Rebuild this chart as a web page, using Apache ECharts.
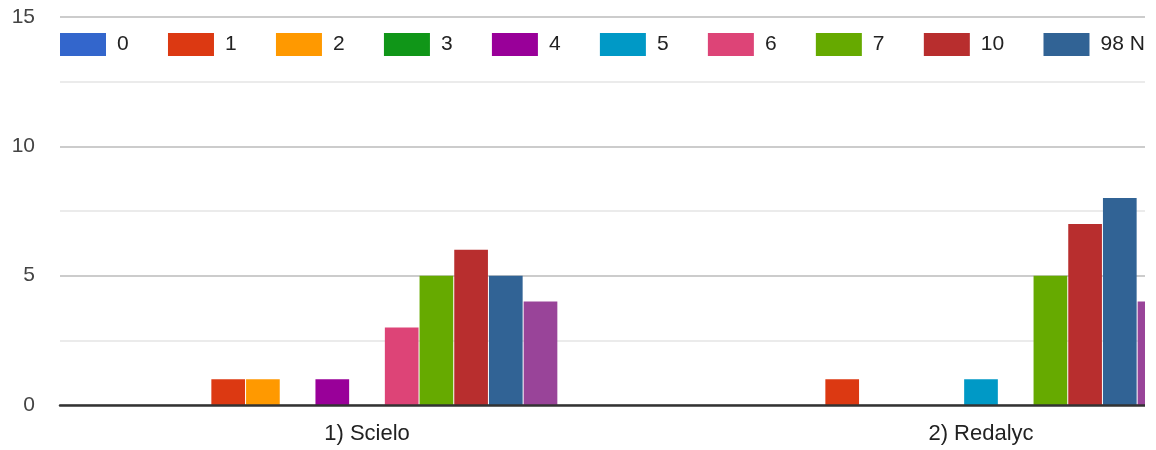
<!DOCTYPE html>
<html>
<head>
<meta charset="utf-8">
<script src="https://cdn.jsdelivr.net/npm/echarts@6/dist/echarts.min.js"></script>
<style>
html,body{margin:0;padding:0;background:#fff;overflow:hidden;}
#wrap{width:1145px;height:450px;overflow:hidden;position:relative;}
#chart{width:1700px;height:450px;}
</style>
</head>
<body>
<div id="wrap"><div id="chart"></div></div>
<script>
const categories = ['1) Scielo', '2) Redalyc'];
const seriesNames = ['0', '1', '2', '3', '4', '5', '6', '7', '10', '98 No sabe', '99 No responde'];
const colors = ['#3366cc', '#dc3912', '#ff9900', '#109618', '#990099', '#0099c6', '#dd4477', '#66aa00', '#b82e2e', '#316395', '#994499'];
const s0 = [0, 0];
const s1 = [1, 1];
const s2 = [1, 0];
const s3 = [0, 0];
const s4 = [1, 0];
const s5 = [0, 1];
const s6 = [3, 0];
const s7 = [5, 5];
const s10 = [6, 7];
const s98 = [5, 8];
const s99 = [4, 4];
const values = [s0, s1, s2, s3, s4, s5, s6, s7, s10, s98, s99];
const yTicks = [0, 5, 10, 15];

const font = 'Arial, "Liberation Sans", sans-serif';
const chart = echarts.init(document.getElementById('chart'));
chart.setOption({
  animation: false,
  color: colors,
  textStyle: { fontFamily: font },
  legend: {
    left: 60, top: 33, padding: 0, width: 1620,
    itemWidth: 46, itemHeight: 23, itemGap: 39.3,
    icon: 'rect',
    textStyle: { fontSize: 21, color: '#222', fontFamily: font, padding: [0, 0, 0, 6] },
    data: seriesNames
  },
  grid: { left: 60, top: 17, width: 1228, height: 388, containLabel: false },
  xAxis: {
    type: 'category', data: categories,
    axisLine: { lineStyle: { color: '#333', width: 2.5 } },
    axisTick: { show: false },
    axisLabel: { fontSize: 22, color: '#222', margin: 18, fontFamily: font },
    z: 10
  },
  yAxis: {
    type: 'value', min: yTicks[0], max: yTicks[yTicks.length - 1], interval: 5,
    axisLine: { show: false }, axisTick: { show: false },
    axisLabel: { fontSize: 21, color: '#444', margin: 25, fontFamily: font },
    splitLine: { lineStyle: { color: '#cccccc', width: 2 } },
    minorTick: { show: false, splitNumber: 2 },
    minorSplitLine: { show: true, lineStyle: { color: '#ebebeb', width: 2 } }
  },
  series: seriesNames.map((n, i) => ({
    name: n, type: 'bar', data: values[i],
    barCategoryGap: '38%', barGap: '3%'
  }))
});
</script>
</body>
</html>
